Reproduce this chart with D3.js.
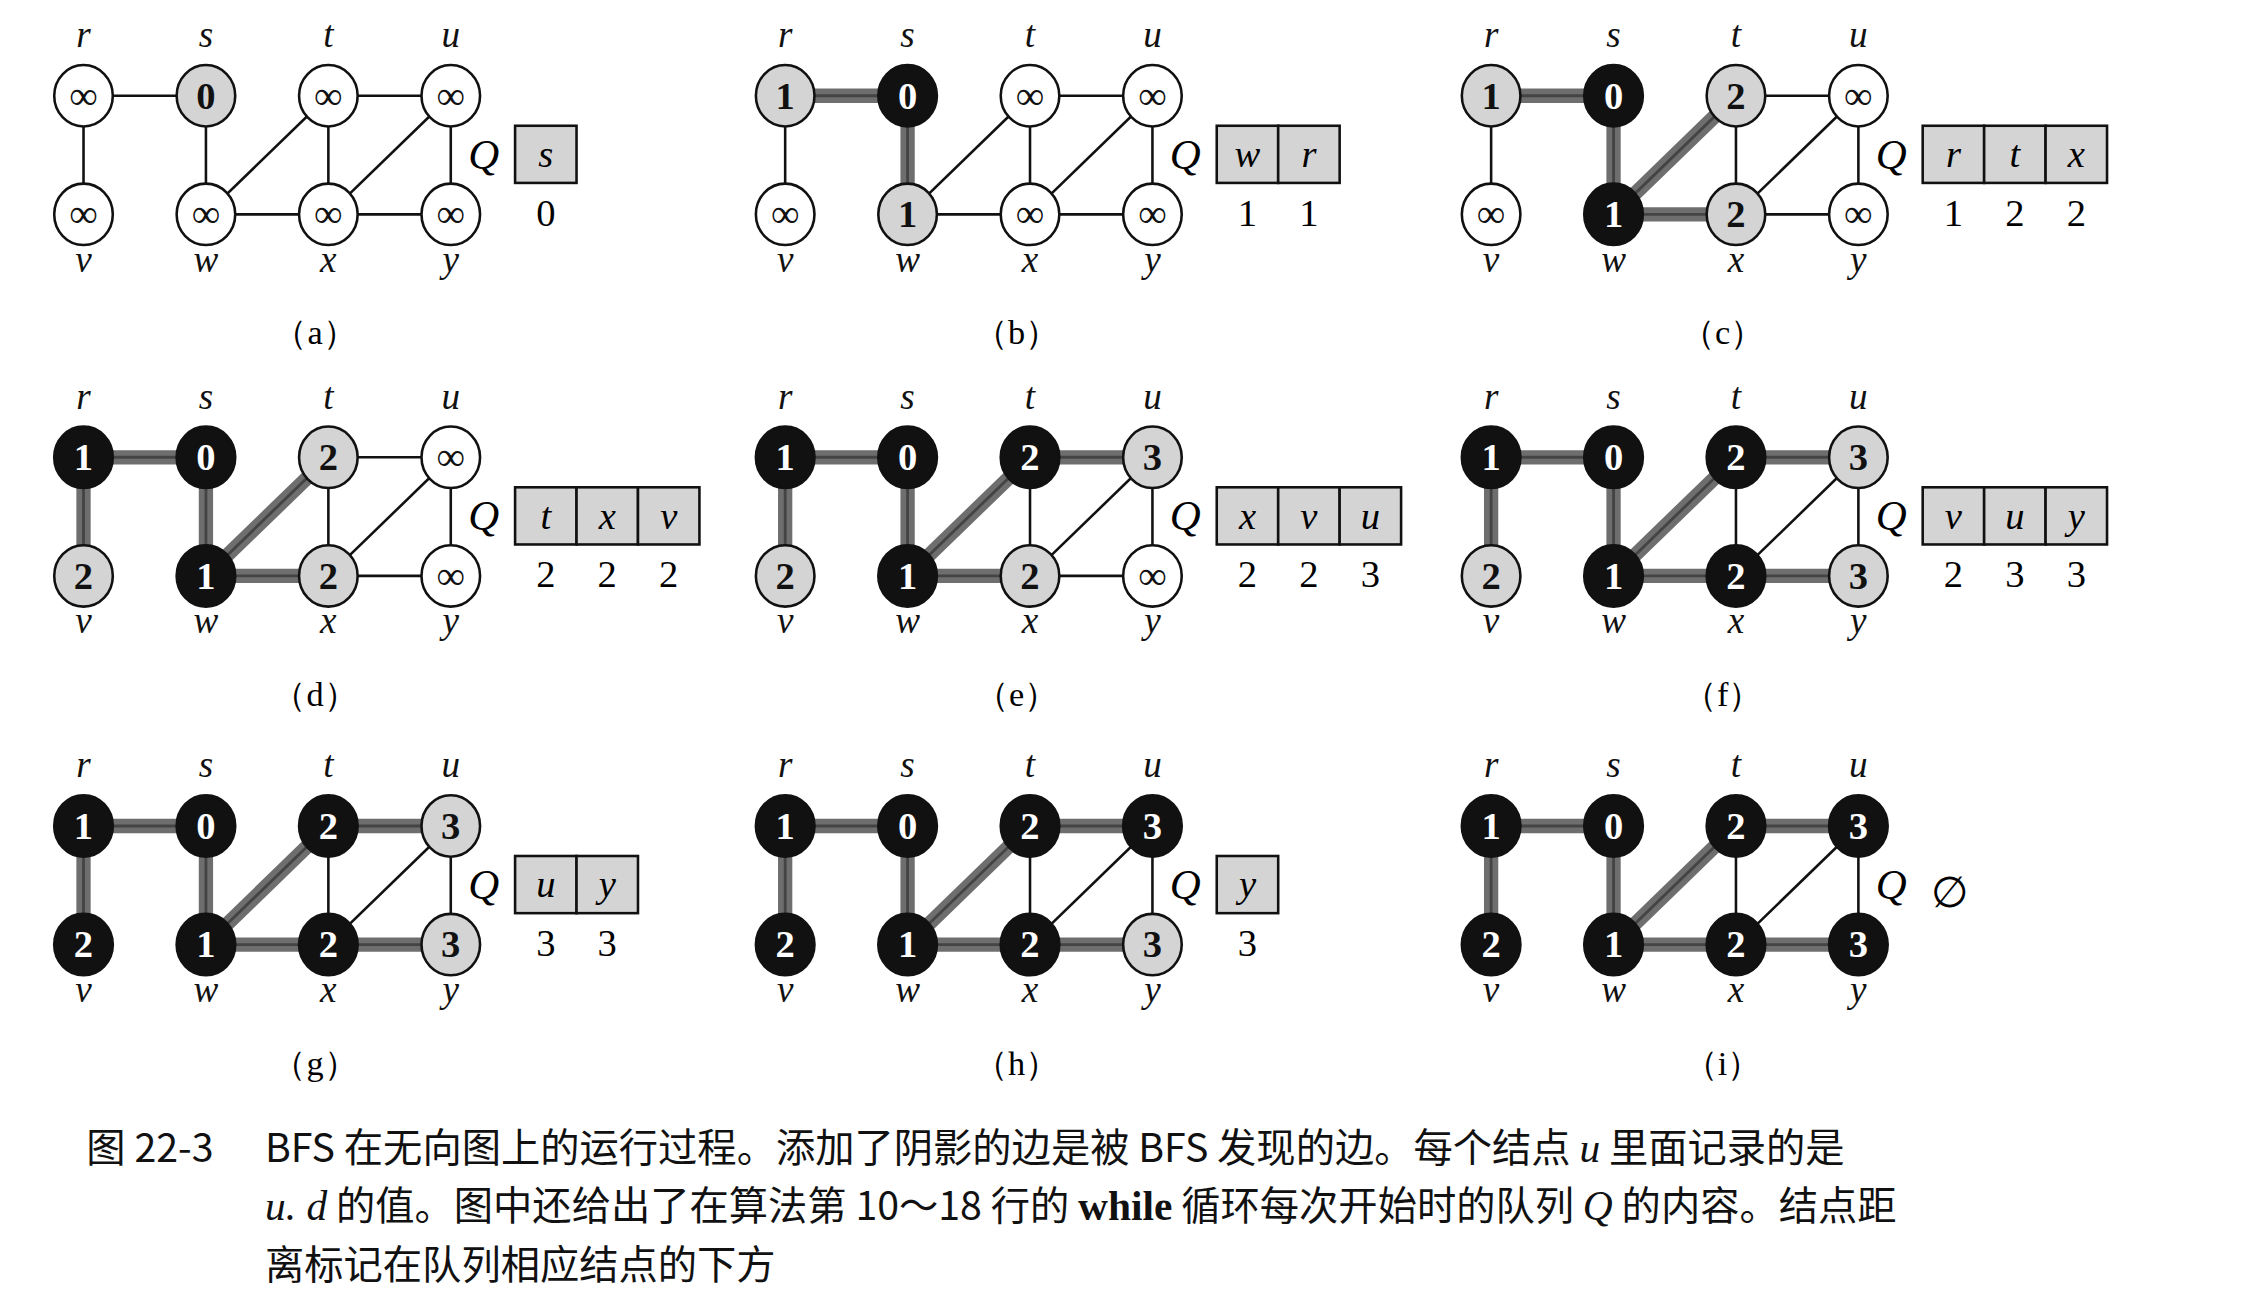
<!DOCTYPE html>
<html><head><meta charset="utf-8">
<script src="https://cdn.jsdelivr.net/npm/d3@7"></script>
<style>body{margin:0;background:#fff}svg{display:block}</style>
</head><body>
<script>
const names = ['r','s','t','u','v','w','x','y'];
const cols = [0,1,2,3,0,1,2,3];
const rows = [0,0,0,0,1,1,1,1];
const edges = [['r','s'],['r','v'],['s','w'],['w','t'],['w','x'],['t','x'],['t','u'],['x','u'],['x','y'],['u','y']];
const panels = ['a','b','c','d','e','f','g','h','i'];
// colour per node in order r s t u v w x y : 0 white, 1 gray, 2 black
const colors = [
  [0,1,0,0,0,0,0,0],
  [1,2,0,0,0,1,0,0],
  [1,2,1,0,0,2,1,0],
  [2,2,1,0,1,2,1,0],
  [2,2,2,1,1,2,1,0],
  [2,2,2,1,1,2,2,1],
  [2,2,2,1,2,2,2,1],
  [2,2,2,2,2,2,2,1],
  [2,2,2,2,2,2,2,2]
];
const dists = [
  ['∞','0','∞','∞','∞','∞','∞','∞'],
  ['1','0','∞','∞','∞','1','∞','∞'],
  ['1','0','2','∞','∞','1','2','∞'],
  ['1','0','2','∞','2','1','2','∞'],
  ['1','0','2','3','2','1','2','∞'],
  ['1','0','2','3','2','1','2','3'],
  ['1','0','2','3','2','1','2','3'],
  ['1','0','2','3','2','1','2','3'],
  ['1','0','2','3','2','1','2','3']
];
const tree = [[],['r-s','s-w'],['r-s','s-w','w-t','w-x'],['r-s','s-w','w-t','w-x','r-v'],
  ['r-s','s-w','w-t','w-x','r-v','t-u'],['r-s','s-w','w-t','w-x','r-v','t-u','x-y'],
  ['r-s','s-w','w-t','w-x','r-v','t-u','x-y'],['r-s','s-w','w-t','w-x','r-v','t-u','x-y'],
  ['r-s','s-w','w-t','w-x','r-v','t-u','x-y']];
const queues = [['s'],['w','r'],['r','t','x'],['t','x','v'],['x','v','u'],['v','u','y'],['u','y'],['y'],[]];
const queueD = [['0'],['1','1'],['1','2','2'],['2','2','2'],['2','2','3'],['2','3','3'],['3','3'],['3'],[]];
const caption = [
  [['图 22-3','n',60],['BFS 在无向图上的运行过程。添加了阴影的边是被 BFS 发现的边。每个结点 ','n',185],['u','i'],[' 里面记录的是','n']],
  [['u. d','i',185],[' 的值。图中还给出了在算法第 10～18 行的 ','n'],['while','b'],[' 循环每次开始时的队列 ','n'],['Q','i'],[' 的内容。结点距','n']],
  [['离标记在队列相应结点的下方','n',185]]
];

const W = 1568, H = 909;
const svg = d3.select('body').append('svg')
  .attr('width', 2242).attr('height', 1299).attr('viewBox', `0 0 ${W} ${H}`);
const serif = '"Liberation Serif","DejaVu Serif",serif';
const panelX = d3.scaleOrdinal().domain([0,1,2]).range([58,549,1043]);
const panelY = d3.scaleOrdinal().domain([0,1,2]).range([67,320,578]);
const colX = d3.scaleLinear().domain([0,3]).range([0,257]);
const rowY = d3.scaleLinear().domain([0,1]).range([0,83]);
const fills = ['#fff','#d4d4d4','#111'];

panels.forEach((p, k) => {
  const ox = panelX(k % 3), oy = panelY(Math.floor(k / 3));
  const g = svg.append('g').attr('transform', `translate(${ox},${oy})`);
  const pos = n => { const i = names.indexOf(n); return [colX(cols[i]), rowY(rows[i])]; };
  const isTree = e => tree[k].includes(e[0] + '-' + e[1]);
  g.selectAll('line.sh').data(edges.filter(isTree)).join('line')
    .attr('x1', d => pos(d[0])[0]).attr('y1', d => pos(d[0])[1])
    .attr('x2', d => pos(d[1])[0]).attr('y2', d => pos(d[1])[1])
    .attr('stroke', '#6e6e6e').attr('stroke-width', 10);
  g.selectAll('line.ed').data(edges).join('line')
    .attr('x1', d => pos(d[0])[0]).attr('y1', d => pos(d[0])[1])
    .attr('x2', d => pos(d[1])[0]).attr('y2', d => pos(d[1])[1])
    .attr('stroke', d => isTree(d) ? '#444' : '#111').attr('stroke-width', d => isTree(d) ? 2 : 1.8);
  names.forEach((n, i) => {
    const [x, y] = pos(n);
    const c = colors[k][i];
    g.append('ellipse').attr('cx', x).attr('cy', y).attr('rx', 20.5).attr('ry', 21.5)
      .attr('fill', fills[c]).attr('stroke', '#111').attr('stroke-width', 1.8);
    g.append('text').attr('x', x).attr('y', y + 9).attr('text-anchor', 'middle')
      .attr('font-family', serif).attr('font-size', dists[k][i] === '∞' ? 28 : 27)
      .attr('font-weight', dists[k][i] === '∞' ? 'normal' : 'bold')
      .attr('fill', c === 2 ? '#fff' : '#111').text(dists[k][i]);
    g.append('text').attr('x', x).attr('y', rows[i] === 0 ? y - 34 : y + 40)
      .attr('text-anchor', 'middle').attr('font-family', serif).attr('font-style', 'italic')
      .attr('font-size', 26).attr('fill', '#111').text(n);
  });
  // queue
  g.append('text').attr('x', 280).attr('y', 51).attr('text-anchor', 'middle')
    .attr('font-family', serif).attr('font-style', 'italic').attr('font-size', 30).text('Q');
  if (queues[k].length === 0) {
    g.append('text').attr('x', 308).attr('y', 57).attr('font-family', serif)
      .attr('font-size', 30).text('∅');
  }
  queues[k].forEach((q, j) => {
    const bx = 302 + j * 43;
    g.append('rect').attr('x', bx).attr('y', 21).attr('width', 43).attr('height', 40)
      .attr('fill', '#d4d4d4').attr('stroke', '#111').attr('stroke-width', 1.8);
    g.append('text').attr('x', bx + 21.5).attr('y', 50).attr('text-anchor', 'middle')
      .attr('font-family', serif).attr('font-style', 'italic')
      .attr('font-size', 27).text(q);
    g.append('text').attr('x', bx + 21.5).attr('y', 91).attr('text-anchor', 'middle')
      .attr('font-family', serif).attr('font-size', 27).text(queueD[k][j]);
  });
  g.append('text').attr('x', 162).attr('y', 174).attr('text-anchor', 'middle')
    .attr('font-family', serif).attr('font-size', 24).text(`（${p}）`);
});

caption.forEach((line, li) => {
  const t = svg.append('text').attr('y', 813 + li * 41).attr('font-size', 27.5)
    .attr('font-family', '"Noto Sans CJK SC",sans-serif').attr('fill', '#111');
  line.forEach(seg => {
    const ts = t.append('tspan').text(seg[0]);
    if (seg[2] !== undefined) ts.attr('x', seg[2]);
    if (seg[1] === 'i') ts.attr('font-family', serif).attr('font-style', 'italic').attr('font-size', 29);
    if (seg[1] === 'b') ts.attr('font-family', serif).attr('font-weight', 'bold').attr('font-size', 29);
  });
});
</script>
</body></html>
